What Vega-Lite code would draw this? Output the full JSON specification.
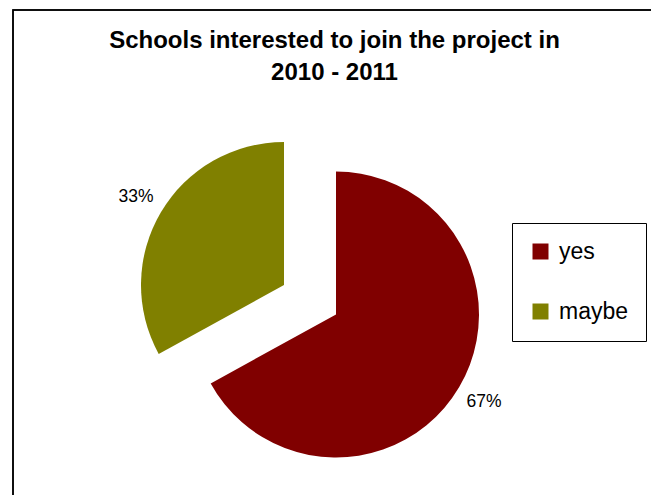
{
  "$schema": "https://vega.github.io/schema/vega-lite/v6.json",
  "width": 643,
  "height": 490,
  "autosize": {"type": "none"},
  "padding": {"left": 13, "top": 10, "right": -5, "bottom": -5},
  "background": "white",
  "config": {
    "view": {"stroke": null},
    "font": "Liberation Sans",
    "legend": {
      "orient": "none",
      "legendX": 499,
      "legendY": 213,
      "title": null,
      "symbolType": "square",
      "symbolSize": 256,
      "symbolStrokeWidth": 0,
      "labelFontSize": 23,
      "labelFont": "Liberation Sans",
      "labelColor": "black",
      "padding": 17,
      "strokeColor": "black",
      "strokeWidth": 1,
      "rowPadding": 36,
      "labelOffset": 7
    }
  },
  "title": {
    "text": ["Schools interested to join the project in", "2010 - 2011"],
    "fontSize": 24,
    "fontWeight": "bold",
    "font": "Liberation Sans",
    "anchor": "middle",
    "offset": -76,
    "lineHeight": 32,
    "color": "black"
  },
  "data": {
    "values": [
      {"answer": "yes", "percent": 67, "label": "67%"},
      {"answer": "maybe", "percent": 33, "label": "33%"}
    ]
  },
  "layer": [
    {
      "mark": {"type": "rect", "fill": "transparent", "stroke": "black", "strokeWidth": 1.5}
    },
    {
      "mark": {"type": "arc", "outerRadius": 143, "xOffset": 1.5, "yOffset": 59.5},
      "encoding": {
        "theta": {"field": "percent", "type": "quantitative", "stack": true},
        "order": {"field": "answer", "sort": "descending"},
        "color": {
          "field": "answer",
          "type": "nominal",
          "scale": {"domain": ["yes", "maybe"], "range": ["#800000", "#808000"]}
        },
        "opacity": {"condition": {"test": "datum.answer === 'yes'", "value": 1}, "value": 0}
      }
    },
    {
      "mark": {"type": "arc", "outerRadius": 143, "xOffset": -50.5, "yOffset": 30},
      "encoding": {
        "theta": {"field": "percent", "type": "quantitative", "stack": true},
        "order": {"field": "answer", "sort": "descending"},
        "color": {
          "field": "answer",
          "type": "nominal",
          "scale": {"domain": ["yes", "maybe"], "range": ["#800000", "#808000"]}
        },
        "opacity": {"condition": {"test": "datum.answer === 'maybe'", "value": 1}, "value": 0}
      }
    },
    {
      "mark": {"type": "text", "radius": 172, "xOffset": 1.5, "yOffset": 59.5, "fontSize": 17.5, "color": "black"},
      "encoding": {
        "theta": {"field": "percent", "type": "quantitative", "stack": true},
        "order": {"field": "answer", "sort": "descending"},
        "text": {"field": "label"},
        "opacity": {"condition": {"test": "datum.answer === 'yes'", "value": 1}, "value": 0}
      }
    },
    {
      "mark": {"type": "text", "radius": 172, "xOffset": -50.5, "yOffset": 30, "fontSize": 17.5, "color": "black"},
      "encoding": {
        "theta": {"field": "percent", "type": "quantitative", "stack": true},
        "order": {"field": "answer", "sort": "descending"},
        "text": {"field": "label"},
        "opacity": {"condition": {"test": "datum.answer === 'maybe'", "value": 1}, "value": 0}
      }
    }
  ]
}
